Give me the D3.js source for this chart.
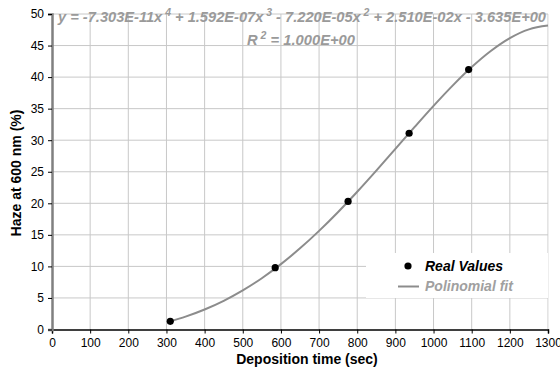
<!DOCTYPE html>
<html><head><meta charset="utf-8">
<script src="https://cdn.jsdelivr.net/npm/d3@7"></script>
<style>body{margin:0;background:#fff;} svg{display:block;font-family:"Liberation Sans",Arial,sans-serif;}</style>
</head><body><svg id="c" width="560" height="367"></svg>
<script>
const realX = [310, 585, 776, 936, 1092];
const realY = [1.3, 9.8, 20.3, 31.1, 41.2];
const fitX = [310, 350, 400, 450, 500, 550, 600, 650, 700, 750, 800, 850, 900, 950, 1000, 1050, 1100, 1150, 1200, 1250, 1300];
const fitY = [1.28, 2.04, 3.17, 4.55, 6.20, 8.13, 10.36, 12.86, 15.63, 18.63, 21.83, 25.18, 28.62, 32.06, 35.44, 38.65, 41.59, 44.14, 46.18, 47.57, 48.16];
const xTicks = [0,100,200,300,400,500,600,700,800,900,1000,1100,1200,1300];
const yTicks = [0,5,10,15,20,25,30,35,40,45,50];
// equation pieces: [text, isSuperscript]
const equationParts = [["y = -7.303E-11x",0],["4",1],[" + 1.592E-07x",0],["3",1],[" - 7.220E-05x",0],["2",1],[" + 2.510E-02x - 3.635E+00",0]];
const rParts = [["R",0],["2",1],[" = 1.000E+00",0]];
const legendLabels = ["Real Values", "Polinomial fit"];

const svg = d3.select("#c");
const L = 52, R = 548, T = 14, B = 329.5;
const x = d3.scaleLinear().domain([0,1300]).range([L,R]);
const y = d3.scaleLinear().domain([0,50]).range([B,T]);

// grid
svg.append("g").selectAll("line").data(xTicks.slice(1)).join("line")
  .attr("x1",d=>x(d)).attr("x2",d=>x(d)).attr("y1",T).attr("y2",B)
  .attr("stroke","#c8c8c8").attr("stroke-width",1);
svg.append("g").selectAll("line").data(yTicks.slice(1)).join("line")
  .attr("x1",L).attr("x2",R).attr("y1",d=>y(d)).attr("y2",d=>y(d))
  .attr("stroke","#c8c8c8").attr("stroke-width",1);
svg.append("line").attr("x1",R+0.5).attr("x2",R+0.5).attr("y1",T).attr("y2",B).attr("stroke","#eeeeee");

// axes
const xa = svg.append("g").attr("transform",`translate(0,${B})`)
  .call(d3.axisBottom(x).tickValues(xTicks).tickSize(4).tickPadding(5).tickFormat(d3.format("d")));
xa.select(".domain").attr("stroke","#000").attr("stroke-width",1.5);
xa.selectAll("line").attr("stroke","#000");
xa.selectAll("text").attr("font-size","12px").attr("fill","#000").attr("font-family","Liberation Sans, Arial, sans-serif");

const ya = svg.append("g").attr("transform",`translate(${L},0)`)
  .call(d3.axisLeft(y).tickValues(yTicks).tickSize(4).tickPadding(4).tickFormat(d3.format("d")));
ya.select(".domain").attr("stroke","#808080").attr("stroke-width",2.5);
ya.selectAll("line").attr("stroke","#000");
ya.selectAll("text").attr("font-size","12px").attr("fill","#000").attr("font-family","Liberation Sans, Arial, sans-serif");

// titles
svg.append("text").attr("x",307).attr("y",364).attr("text-anchor","middle")
  .attr("font-size","14px").attr("font-weight","bold").text("Deposition time (sec)");
svg.append("text").attr("transform",`translate(21,173) rotate(-90)`).attr("text-anchor","middle")
  .attr("font-size","14px").attr("font-weight","bold").text("Haze at 600 nm (%)");

// fit line
const fit = fitX.map((d,i)=>[d,fitY[i]]);
svg.append("path").datum(fit)
  .attr("d", d3.line().x(d=>x(d[0])).y(d=>y(d[1])).curve(d3.curveMonotoneX))
  .attr("fill","none").attr("stroke","#8c8c8c").attr("stroke-width",2);

// points
svg.append("g").selectAll("circle").data(realX.map((d,i)=>[d,realY[i]])).join("circle")
  .attr("cx",d=>x(d[0])).attr("cy",d=>y(d[1])).attr("r",3.6).attr("fill","#000");

// equation
function richText(parts, cx, by, targetW){
  const t = svg.append("text").attr("x",cx).attr("y",by).attr("text-anchor","middle")
    .attr("font-size","14px").attr("font-weight","bold").attr("font-style","italic").attr("fill","#9a9a9a");
  parts.forEach(p=>{
    const s = t.append("tspan").text(p[1] ? " " + p[0] : p[0]);
    if(p[1]) s.attr("font-size","10px").attr("dy",-6);
    else if(t.selectAll("tspan").size()>1) s.attr("dy",6);
  });
  if(targetW){
    const w = t.node().getComputedTextLength();
    t.attr("textLength",targetW).attr("lengthAdjust","spacingAndGlyphs");
  }
  return t;
}
richText(equationParts, 302, 22, 488);
richText(rParts, 301, 45, 108);

// legend
const lg = svg.append("g");
lg.append("rect").attr("x",366).attr("y",253).attr("width",182).attr("height",45).attr("fill","#fff");
lg.append("circle").attr("cx",408).attr("cy",266).attr("r",3.6).attr("fill","#000");
lg.append("text").attr("x",425).attr("y",271).attr("font-size","14px").attr("font-weight","bold")
  .attr("font-style","italic").attr("fill","#000").text(legendLabels[0]);
lg.append("line").attr("x1",398).attr("x2",419).attr("y1",286.5).attr("y2",286.5).attr("stroke","#8c8c8c").attr("stroke-width",2);
lg.append("text").attr("x",425).attr("y",291).attr("font-size","14px").attr("font-weight","bold")
  .attr("font-style","italic").attr("fill","#a0a0a0").text(legendLabels[1]);
</script></body></html>
